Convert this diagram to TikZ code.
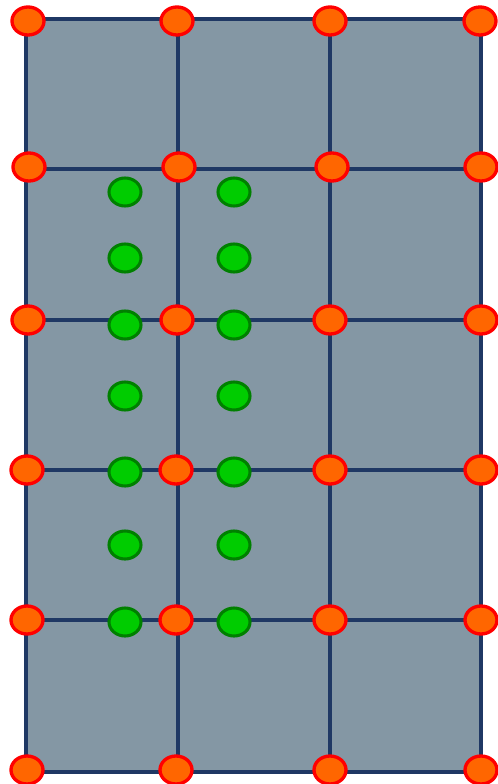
\documentclass[tikz,border=0pt]{standalone}
\usetikzlibrary{shapes.geometric}

\definecolor{cellgrey}{RGB}{132,151,164}
\definecolor{gridnavy}{RGB}{31,56,100}
\definecolor{cornerorange}{RGB}{255,102,0}
\definecolor{dotgreen}{RGB}{0,204,0}
\definecolor{dotdarkgreen}{RGB}{0,128,0}

\begin{document}
\begin{tikzpicture}[x=0.75pt, y=-0.75pt,
  gridline/.style={draw=gridnavy, line width=2.7pt, line cap=rect},
  corner/.style={ellipse, draw=red, fill=cornerorange, line width=2.5pt,
    minimum width=24pt, minimum height=21pt, inner sep=0pt},
  quadpt/.style={ellipse, draw=dotdarkgreen, fill=dotgreen, line width=2.3pt,
    minimum width=24pt, minimum height=21pt, inner sep=0pt}]

\useasboundingbox (0,0) rectangle (497,784);

% grid corners
\coordinate (a1) at (26,19);  \coordinate (a2) at (178,19);  \coordinate (a3) at (330,19);  \coordinate (a4) at (481,19);
\coordinate (b1) at (26,169); \coordinate (b2) at (178,169); \coordinate (b3) at (330,169); \coordinate (b4) at (481,169);
\coordinate (c1) at (26,320); \coordinate (c2) at (178,320); \coordinate (c3) at (330,320); \coordinate (c4) at (481,320);
\coordinate (d1) at (26,470); \coordinate (d2) at (178,470); \coordinate (d3) at (330,470); \coordinate (d4) at (481,470);
\coordinate (e1) at (26,620); \coordinate (e2) at (178,620); \coordinate (e3) at (330,620); \coordinate (e4) at (481,620);
\coordinate (f1) at (26,772); \coordinate (f2) at (178,772); \coordinate (f3) at (330,772); \coordinate (f4) at (481,772);

\fill [cellgrey] (a1) rectangle (f4);

\draw [gridline] (a1) -- (a4);
\draw [gridline] (b1) -- (b4);
\draw [gridline] (c1) -- (c4);
\draw [gridline] (d1) -- (d4);
\draw [gridline] (e1) -- (e4);
\draw [gridline] (f1) -- (f4);

\draw [gridline] (a1) -- (f1);
\draw [gridline] (a2) -- (f2);
\draw [gridline] (a3) -- (f3);
\draw [gridline] (a4) -- (f4);

% inner points
\node [quadpt] (g1l) at (125,192) {};  \node [quadpt] (g1r) at (234,192) {};
\node [quadpt] (g2l) at (125,258) {};  \node [quadpt] (g2r) at (234,258) {};
\node [quadpt] (g3l) at (125,325) {};  \node [quadpt] (g3r) at (234,325) {};
\node [quadpt] (g4l) at (125,396) {};  \node [quadpt] (g4r) at (234,396) {};
\node [quadpt] (g5l) at (125,472) {};  \node [quadpt] (g5r) at (234,472) {};
\node [quadpt] (g6l) at (125,545) {};  \node [quadpt] (g6r) at (234,545) {};
\node [quadpt] (g7l) at (125,622) {};  \node [quadpt] (g7r) at (234,622) {};

% corner points
\node [corner] (oa1) at (28,21)  {}; \node [corner] (oa2) at (177,21)  {}; \node [corner] (oa3) at (330,21)  {}; \node [corner] (oa4) at (480,21)  {};
\node [corner] (ob1) at (29,167) {}; \node [corner] (ob2) at (179,167) {}; \node [corner] (ob3) at (332,167) {}; \node [corner] (ob4) at (481,167) {};
\node [corner] (oc1) at (28,320) {}; \node [corner] (oc2) at (177,320) {}; \node [corner] (oc3) at (330,320) {}; \node [corner] (oc4) at (481,320) {};
\node [corner] (od1) at (27,470) {}; \node [corner] (od2) at (176,470) {}; \node [corner] (od3) at (330,470) {}; \node [corner] (od4) at (481,470) {};
\node [corner] (oe1) at (27,620) {}; \node [corner] (oe2) at (176,620) {}; \node [corner] (oe3) at (330,620) {}; \node [corner] (oe4) at (481,620) {};
\node [corner] (of1) at (27,770) {}; \node [corner] (of2) at (176,770) {}; \node [corner] (of3) at (330,770) {}; \node [corner] (of4) at (481,770) {};

\end{tikzpicture}
\end{document}
